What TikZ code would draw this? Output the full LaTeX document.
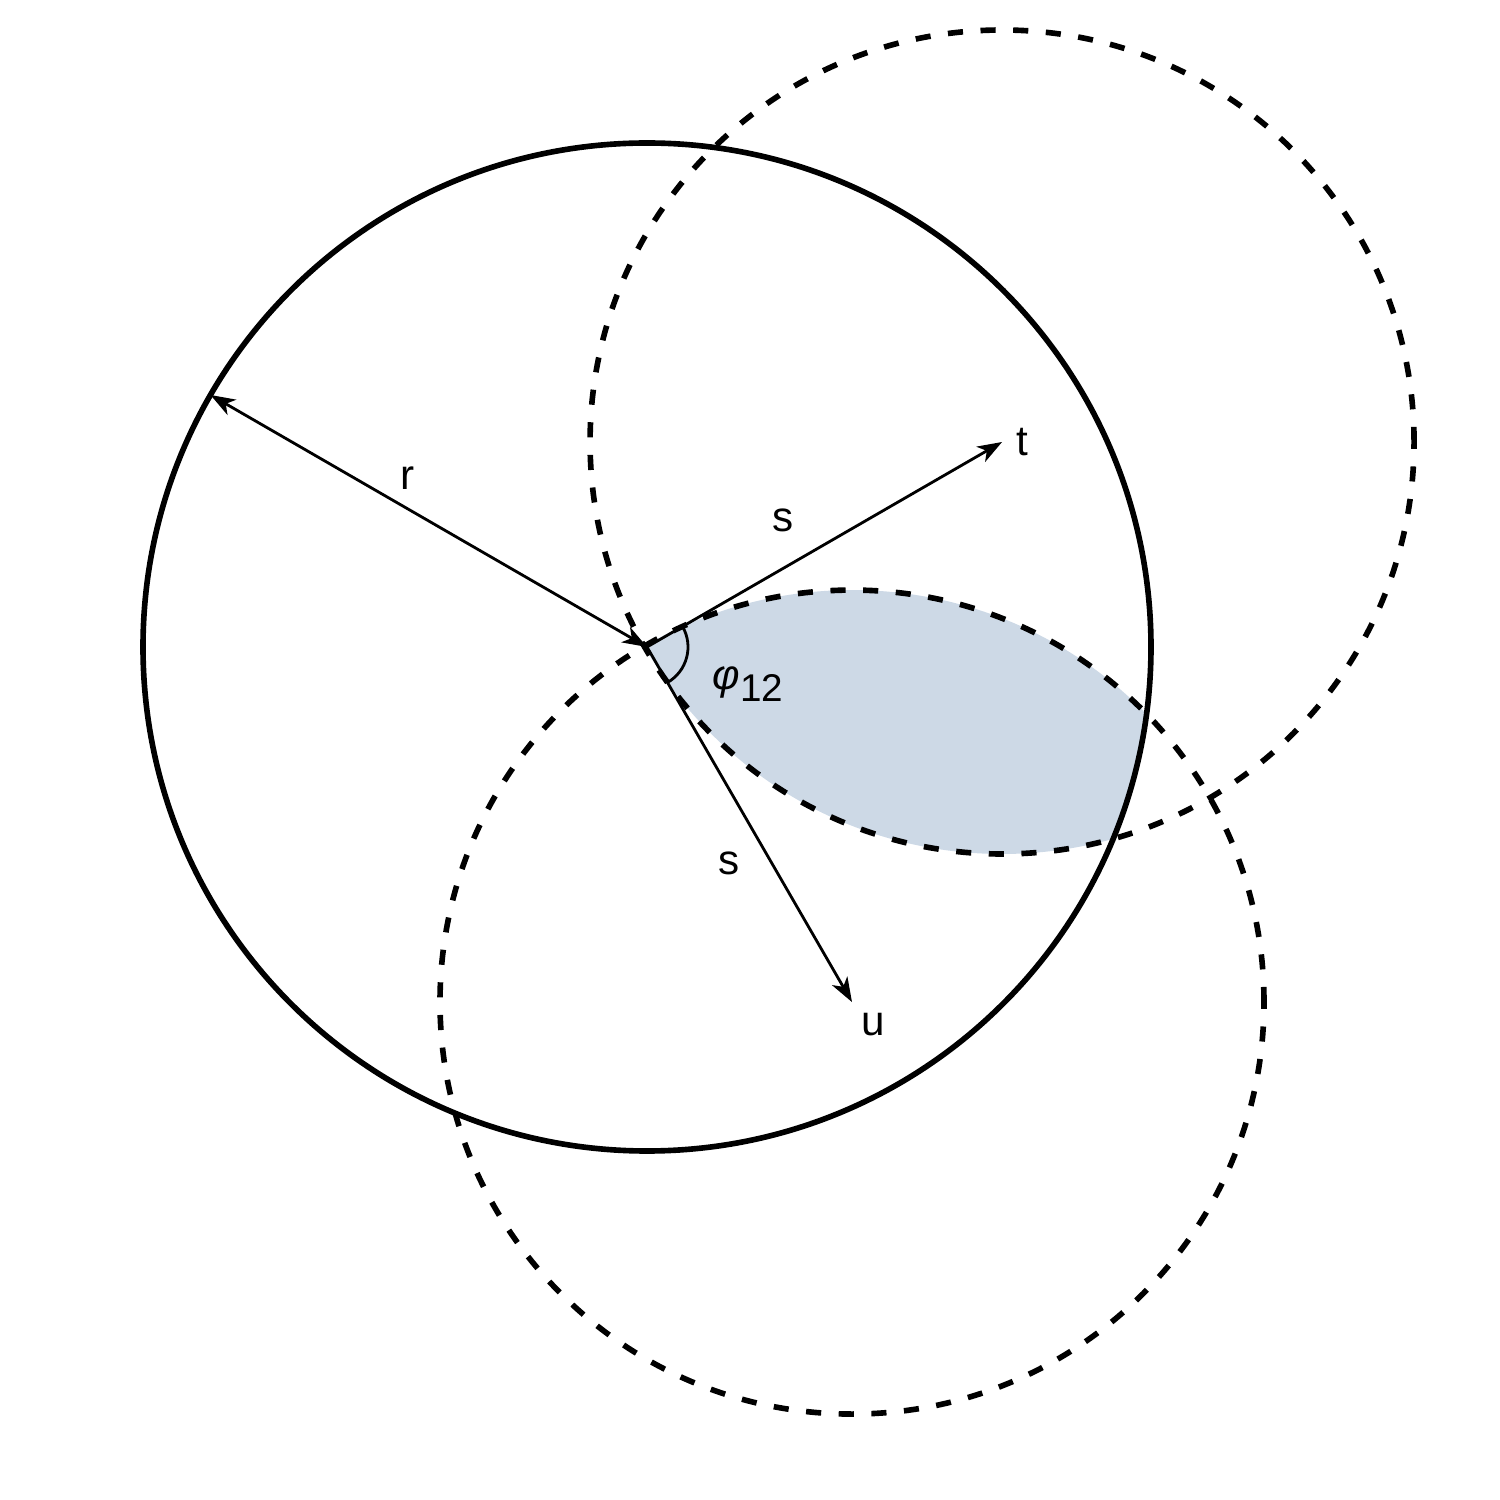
\documentclass[tikz,border=0pt]{standalone}
\usepackage{fontspec}
\setmainfont{Liberation Sans}
\usetikzlibrary{arrows.meta,positioning}
\definecolor{lensblue}{RGB}{205,217,230}
\tikzset{
  bigcirc/.style={line width=1.6pt},
  dashcirc/.style={line width=1.6pt,dash pattern=on 4.3pt off 5pt},
  vec/.style={line width=0.8pt,>={Stealth[length=7pt,width=5pt,inset=2pt]}},
  lbl/.style={inner sep=0pt,font=\fontsize{12}{14}\selectfont}
}
\begin{document}
\begin{tikzpicture}
\useasboundingbox (0,0) rectangle (15,15);
\coordinate (O) at (6.47,8.53);
\coordinate (T) at ([shift={(30:4.1)}]O);
\coordinate (U) at ([shift={(-60:4.1)}]O);
\coordinate (R) at ([shift={(150:5.04)}]O);
\begin{scope}
\clip (O) circle (5.04);
\clip (T) circle (4.12);
\fill[lensblue] (U) circle (4.12);
\end{scope}
\draw[bigcirc] (O) circle (5.04);
\draw[dashcirc] (T) circle (4.12);
\draw[dashcirc] (U) circle (4.12);
\draw[vec,<->] (O) -- (R);
\draw[vec,->] (O) -- (T);
\draw[vec,->] (O) -- (U);
\draw[line width=0.8pt] ([shift={(30:0.41)}]O) arc (30:-60:0.41);
\node[lbl, right=0.14 of T] (tlab) {t};
\node[lbl, below right=0.1 and 0.09 of U] (ulab) {u};
\node[lbl] (rlab) at (4.08,10.22) {r};
\node[lbl] (stlab) at (7.83,9.80) {s};
\node[lbl] (sulab) at (7.29,6.37) {s};
\node[lbl] (philab) at (7.48,8.16) {{\itshape φ}\raisebox{-3.2pt}{\fontsize{11}{13}\selectfont 12}};
\end{tikzpicture}
\end{document}
